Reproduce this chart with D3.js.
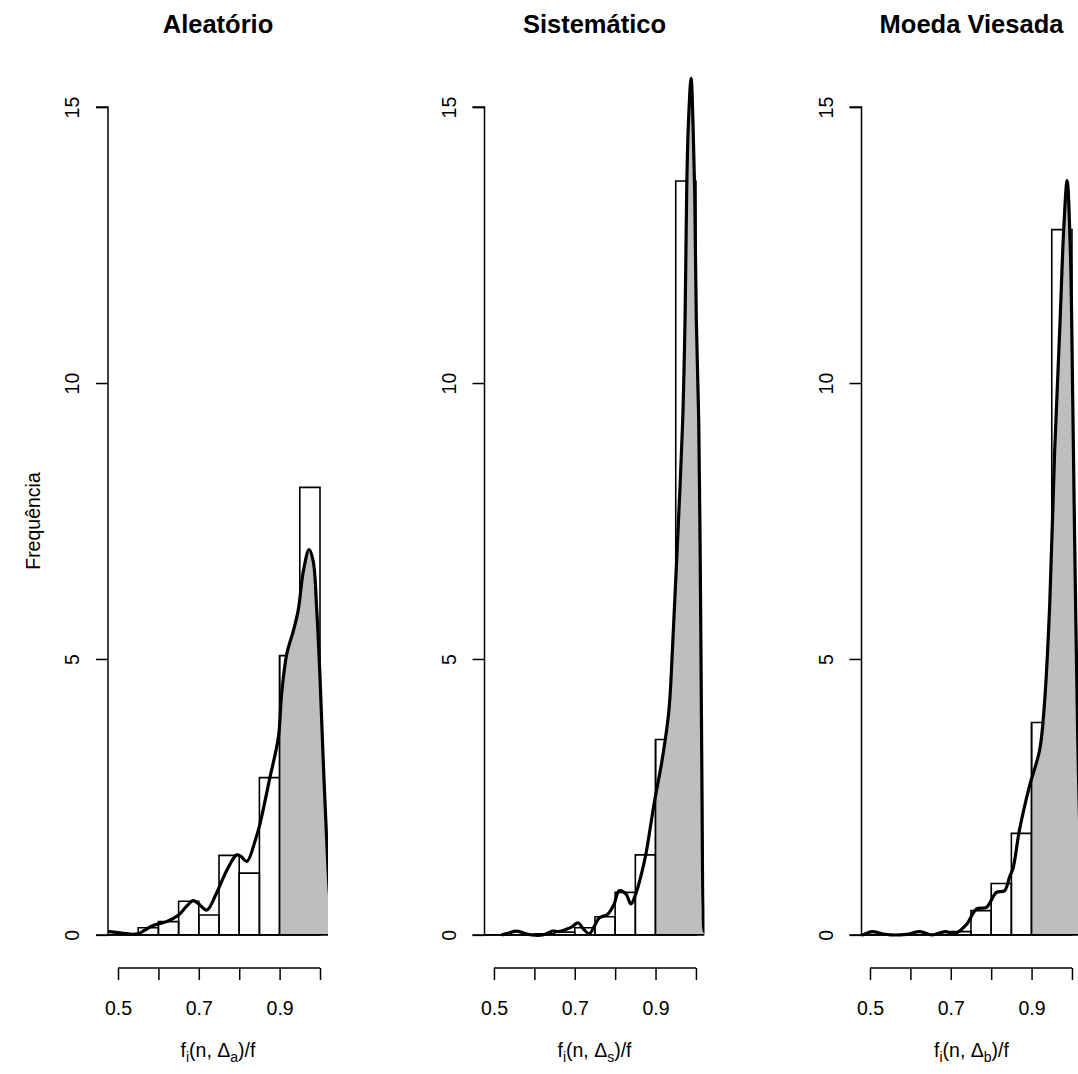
<!DOCTYPE html>
<html>
<head>
<meta charset="utf-8">
<script src="https://cdn.jsdelivr.net/npm/d3@7"></script>
<style>
body { margin: 0; background: #fff; }
text { font-family: "Liberation Sans", Arial, Helvetica, sans-serif; fill: #000; }
</style>
</head>
<body>
<div id="chart"></div>
<script>
var w = 1078;
var h = 1074;

// panel titles and subscripts of the x label
var titles = ["Aleatório", "Sistemático", "Moeda Viesada"];
var subs = ["a", "s", "b"];

// histogram bins (left edges, width 0.05) and densities
var binStart = [0.45, 0.50, 0.55, 0.60, 0.65, 0.70, 0.75, 0.80, 0.85, 0.90, 0.95];
var binWidth = 0.05;
var histAleatorio  = [0, 0, 0.13, 0.24, 0.61, 0.36, 1.44, 1.12, 2.85, 5.06, 8.11];
var histSistematico = [0, 0, 0, 0.02, 0.05, 0.13, 0.33, 0.77, 1.45, 3.54, 13.66];
var histMoeda      = [0, 0, 0, 0, 0, 0.06, 0.44, 0.93, 1.84, 3.85, 12.78];

// kernel density curves
var densAleatorioX = [0.460, 0.478, 0.49, 0.513, 0.535, 0.55, 0.565, 0.587, 0.62, 0.65, 0.67, 0.686, 0.70, 0.72, 0.744, 0.77, 0.794, 0.805, 0.819, 0.84, 0.851, 0.876, 0.897, 0.905, 0.918, 0.934, 0.946, 0.959, 0.973, 0.983, 0.992, 1.0, 1.008, 1.017, 1.025, 1.035];
var densAleatorioY = [0.05, 0.06, 0.05, 0.03, 0.01, 0.02, 0.08, 0.17, 0.24, 0.36, 0.52, 0.62, 0.56, 0.45, 0.76, 1.18, 1.45, 1.42, 1.33, 1.72, 2.0, 2.85, 3.58, 4.37, 5.1, 5.51, 5.88, 6.6, 6.98, 6.78, 5.88, 4.67, 3.16, 1.65, 0.6, 0.1];

var densSistematicoX = [0.519, 0.535, 0.556, 0.575, 0.593, 0.621, 0.646, 0.66, 0.679, 0.694, 0.708, 0.72, 0.736, 0.748, 0.761, 0.781, 0.797, 0.810, 0.827, 0.839, 0.851, 0.865, 0.876, 0.897, 0.917, 0.933, 0.942, 0.954, 0.967, 0.973, 0.977, 0.981, 0.988, 0.993, 0.997, 1.001, 1.007, 1.012, 1.015, 1.018, 1.022, 1.03];
var densSistematicoY = [0, 0.03, 0.07, 0.03, 0, 0, 0.07, 0.06, 0.1, 0.15, 0.22, 0.12, 0.02, 0.15, 0.31, 0.37, 0.55, 0.8, 0.74, 0.56, 0.74, 1.1, 1.46, 2.4, 3.2, 4.06, 5.2, 7.06, 9.28, 11.14, 13.43, 14.64, 15.52, 14.64, 13.43, 11.14, 9.28, 5.57, 2.61, 0.5, 0.05, 0.05];

var densMoedaX = [0.470, 0.481, 0.505, 0.53, 0.55, 0.59, 0.624, 0.653, 0.686, 0.71, 0.739, 0.764, 0.788, 0.813, 0.833, 0.846, 0.854, 0.870, 0.895, 0.920, 0.932, 0.945, 0.957, 0.970, 0.980, 0.988, 0.996, 1.002, 1.01, 1.02, 1.03];
var densMoedaY = [0, 0, 0.06, 0.02, 0, 0.01, 0.06, 0, 0.06, 0.02, 0.19, 0.47, 0.5, 0.77, 0.8, 1.06, 1.2, 1.9, 2.7, 3.35, 4.2, 6.0, 8.74, 11.02, 12.85, 13.67, 12.39, 9.65, 5.5, 1.8, 0.3];

var hists = [histAleatorio, histSistematico, histMoeda];
var densX = [densAleatorioX, densSistematicoX, densMoedaX];
var densY = [densAleatorioY, densSistematicoY, densMoedaY];

// axes
var xlims = [[0.4752, 1.0198], [0.4766, 1.0212], [0.479, 1.0236]];
var yTicks = [0, 5, 10, 15];
var xTicks = [0.5, 0.6, 0.7, 0.8, 0.9, 1.0];
var xTickLabels = ["0.5", "", "0.7", "", "0.9", ""];
var shadeFrom = 0.9;

var panelLeft = [108, 484.5, 861.5];
var plotW = 220;
var plotTop = 74, plotBottom = 968;

var svg = d3.select("#chart")
    .append("svg")
    .attr("width", w)
    .attr("height", h)
    .style("display", "block");

var yScale = d3.scaleLinear()
    .domain([-0.6, 15.6])
    .range([plotBottom, plotTop]);

svg.append("text")
    .attr("transform", "translate(33," + ((plotTop + plotBottom) / 2) + ") rotate(-90)")
    .attr("text-anchor", "middle")
    .attr("dominant-baseline", "central")
    .style("font-size", "19.5px")
    .text("Frequência");

titles.forEach(function(title, p) {
    var left = panelLeft[p];
    var xScale = d3.scaleLinear()
        .domain(xlims[p])
        .range([left, left + plotW]);

    var g = svg.append("g");

    var clipId = "clip" + p;
    svg.append("clipPath").attr("id", clipId)
        .append("rect")
        .attr("x", left).attr("y", plotTop)
        .attr("width", plotW).attr("height", plotBottom - plotTop);

    var shadeId = "shade" + p;
    svg.append("clipPath").attr("id", shadeId)
        .append("rect")
        .attr("x", xScale(shadeFrom)).attr("y", plotTop)
        .attr("width", left + plotW - xScale(shadeFrom)).attr("height", plotBottom - plotTop);

    var plot = g.append("g").attr("clip-path", "url(#" + clipId + ")");

    // histogram bars (no fill, as R hist)
    var bins = binStart.map(function(b, i) { return { x0: b, x1: b + binWidth, d: hists[p][i] }; });
    plot.selectAll("path.bar")
        .data(bins)
        .join("path")
        .attr("class", "bar")
        .attr("d", function(d) {
            return "M" + xScale(d.x0) + "," + yScale(0) +
                   "V" + yScale(d.d) + "H" + xScale(d.x1) + "V" + yScale(0) + "Z";
        })
        .attr("fill", "none")
        .attr("stroke", "#000")
        .attr("stroke-width", 1.6);

    var pts = densX[p].map(function(x, i) { return [x, densY[p][i]]; });
    var curve = d3.curveCatmullRom.alpha(0.5);

    // grey area under the density for x >= 0.9
    var area = d3.area()
        .x(function(d) { return xScale(d[0]); })
        .y0(yScale(0))
        .y1(function(d) { return yScale(d[1]); })
        .curve(curve);
    plot.append("g").attr("clip-path", "url(#" + shadeId + ")")
        .append("path")
        .attr("d", area(pts))
        .attr("fill", "#bebebe");

    // polygon border pieces: left edge at 0.9 and the baseline
    var iShade = binStart.indexOf(shadeFrom);
    plot.append("line")
        .attr("x1", xScale(shadeFrom)).attr("x2", xScale(shadeFrom))
        .attr("y1", yScale(0)).attr("y2", yScale(hists[p][iShade]))
        .attr("stroke", "#000").attr("stroke-width", 1.6);
    plot.append("line")
        .attr("x1", left).attr("x2", left + plotW)
        .attr("y1", yScale(0)).attr("y2", yScale(0))
        .attr("stroke", "#000").attr("stroke-width", 1.6);

    var line = d3.line()
        .x(function(d) { return xScale(d[0]); })
        .y(function(d) { return yScale(d[1]); })
        .curve(curve);
    plot.append("path")
        .attr("d", line(pts))
        .attr("fill", "none")
        .attr("stroke", "#000")
        .attr("stroke-width", 3.2)
        .attr("stroke-linejoin", "round");

    // y axis
    var yAxis = d3.axisLeft(yScale).tickValues(yTicks).tickSize(12).tickFormat(d3.format("d"));
    var ya = g.append("g")
        .attr("transform", "translate(" + left + ",0)")
        .call(yAxis);
    ya.select(".domain").attr("d", "M-12," + yScale(0) + "H0V" + yScale(15) + "H-12")
        .attr("stroke-width", 1.5);
    ya.selectAll(".tick line").attr("stroke-width", 1.5);
    ya.selectAll(".tick text")
        .attr("x", 0).attr("dy", null)
        .attr("transform", "translate(-36,0) rotate(-90)")
        .attr("text-anchor", "middle")
        .attr("dominant-baseline", "central")
        .style("font-size", "19.5px")
        .style("font-family", "'Liberation Sans', Arial, sans-serif");

    // x axis
    var xAxis = d3.axisBottom(xScale).tickValues(xTicks).tickSize(12)
        .tickFormat(function(d, i) { return xTickLabels[i]; });
    var xa = g.append("g")
        .attr("transform", "translate(0," + plotBottom + ")")
        .call(xAxis);
    xa.select(".domain").attr("d", "M" + xScale(0.5) + ",0H" + xScale(1.0))
        .attr("stroke-width", 1.5);
    xa.selectAll(".tick line").attr("stroke-width", 1.5);
    xa.selectAll(".tick text")
        .attr("y", 40).attr("dy", null)
        .attr("dominant-baseline", "central")
        .style("font-size", "19.5px")
        .style("font-family", "'Liberation Sans', Arial, sans-serif");

    // x label  f_i(n, Δ_x)/f
    var cx = left + plotW / 2;
    var lab = g.append("text")
        .attr("x", cx)
        .attr("y", 1057)
        .attr("text-anchor", "middle")
        .style("font-size", "19.5px");
    lab.append("tspan").text("f");
    lab.append("tspan").attr("dy", 5).style("font-size", "14px").text("i");
    lab.append("tspan").attr("dy", -5).text("(n, Δ");
    lab.append("tspan").attr("dy", 5).style("font-size", "14px").text(subs[p]);
    lab.append("tspan").attr("dy", -5).text(")/f");

    // title
    g.append("text")
        .attr("x", cx)
        .attr("y", 33)
        .attr("text-anchor", "middle")
        .style("font-size", "25.5px")
        .style("font-weight", "bold")
        .text(title);
});
</script>
</body>
</html>
